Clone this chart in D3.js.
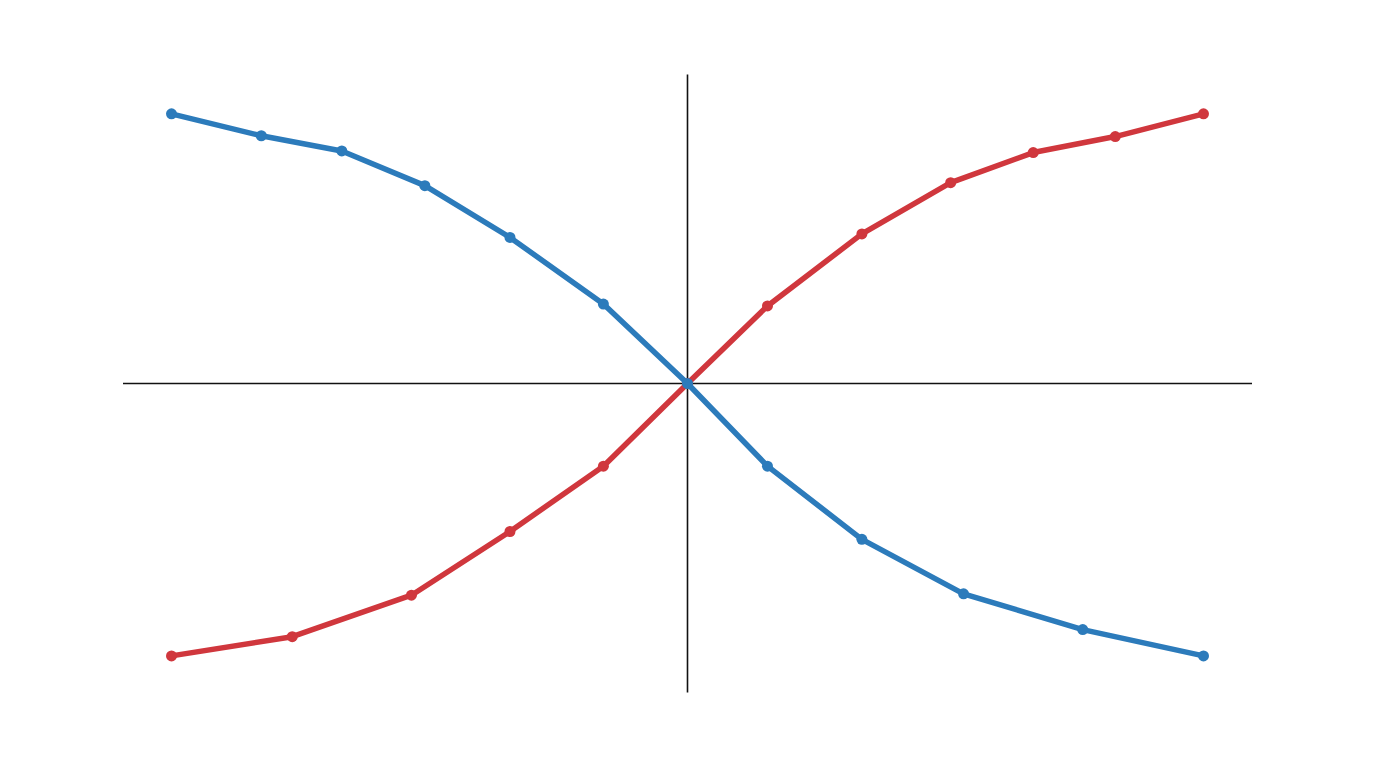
<!DOCTYPE html>
<html>
<head>
<meta charset="utf-8">
<script src="https://cdn.jsdelivr.net/npm/d3@7"></script>
<style>
  html, body { margin: 0; padding: 0; background: #fff; }
</style>
</head>
<body>
<div id="chart"></div>
<script>
// values (units: ±100 at the end points)
const blueX = [-100, -82.6, -67.0, -50.9, -34.4, -16.3, 0, 15.5, 33.8, 53.5, 76.6, 100];
const blueY = [99.5, 91.4, 85.8, 73.0, 53.9, 29.3, 0, -30.5, -57.5, -77.6, -90.8, -100.5];
const redX = [-100, -76.6, -53.5, -34.4, -16.3, 0, 15.5, 33.8, 51.0, 67.0, 82.9, 100];
const redY = [-100.5, -93.4, -78.1, -54.6, -30.5, 0, 28.6, 55.2, 74.1, 85.2, 91.1, 99.5];
const xExtent = [-109.4, 109.4];
const yExtent = [-114, 114];

const width = 1376;
const height = 768;

const svg = d3.select('#chart')
  .append('svg')
  .attr('width', width)
  .attr('height', height);

const x = d3.scaleLinear().domain(xExtent).range([123, 1252]);
const y = d3.scaleLinear().domain(yExtent).range([692.5, 74.5]);

// axes through the origin
svg.append('line')
  .attr('x1', x(xExtent[0])).attr('x2', x(xExtent[1]))
  .attr('y1', y(0)).attr('y2', y(0))
  .style('stroke', '#111')
  .style('stroke-width', 1.6);

svg.append('line')
  .attr('x1', x(0)).attr('x2', x(0))
  .attr('y1', y(yExtent[0])).attr('y2', y(yExtent[1]))
  .style('stroke', '#111')
  .style('stroke-width', 1.6);

const series = [
  {name: 'red', color: '#d0373d', pts: redX.map((v, i) => [v, redY[i]])},
  {name: 'blue', color: '#2c7bbb', pts: blueX.map((v, i) => [v, blueY[i]])}
];

const line = d3.line()
  .x(d => x(d[0]))
  .y(d => y(d[1]));

series.forEach(s => {
  const g = svg.append('g').attr('class', s.name);
  g.append('path')
    .datum(s.pts)
    .attr('d', line)
    .style('fill', 'none')
    .style('stroke', s.color)
    .style('stroke-width', 5.5)
    .style('stroke-linejoin', 'round');
  g.selectAll('circle')
    .data(s.pts)
    .enter().append('circle')
      .attr('cx', d => x(d[0]))
      .attr('cy', d => y(d[1]))
      .attr('r', 5.5)
      .style('fill', s.color);
});
</script>
</body>
</html>
